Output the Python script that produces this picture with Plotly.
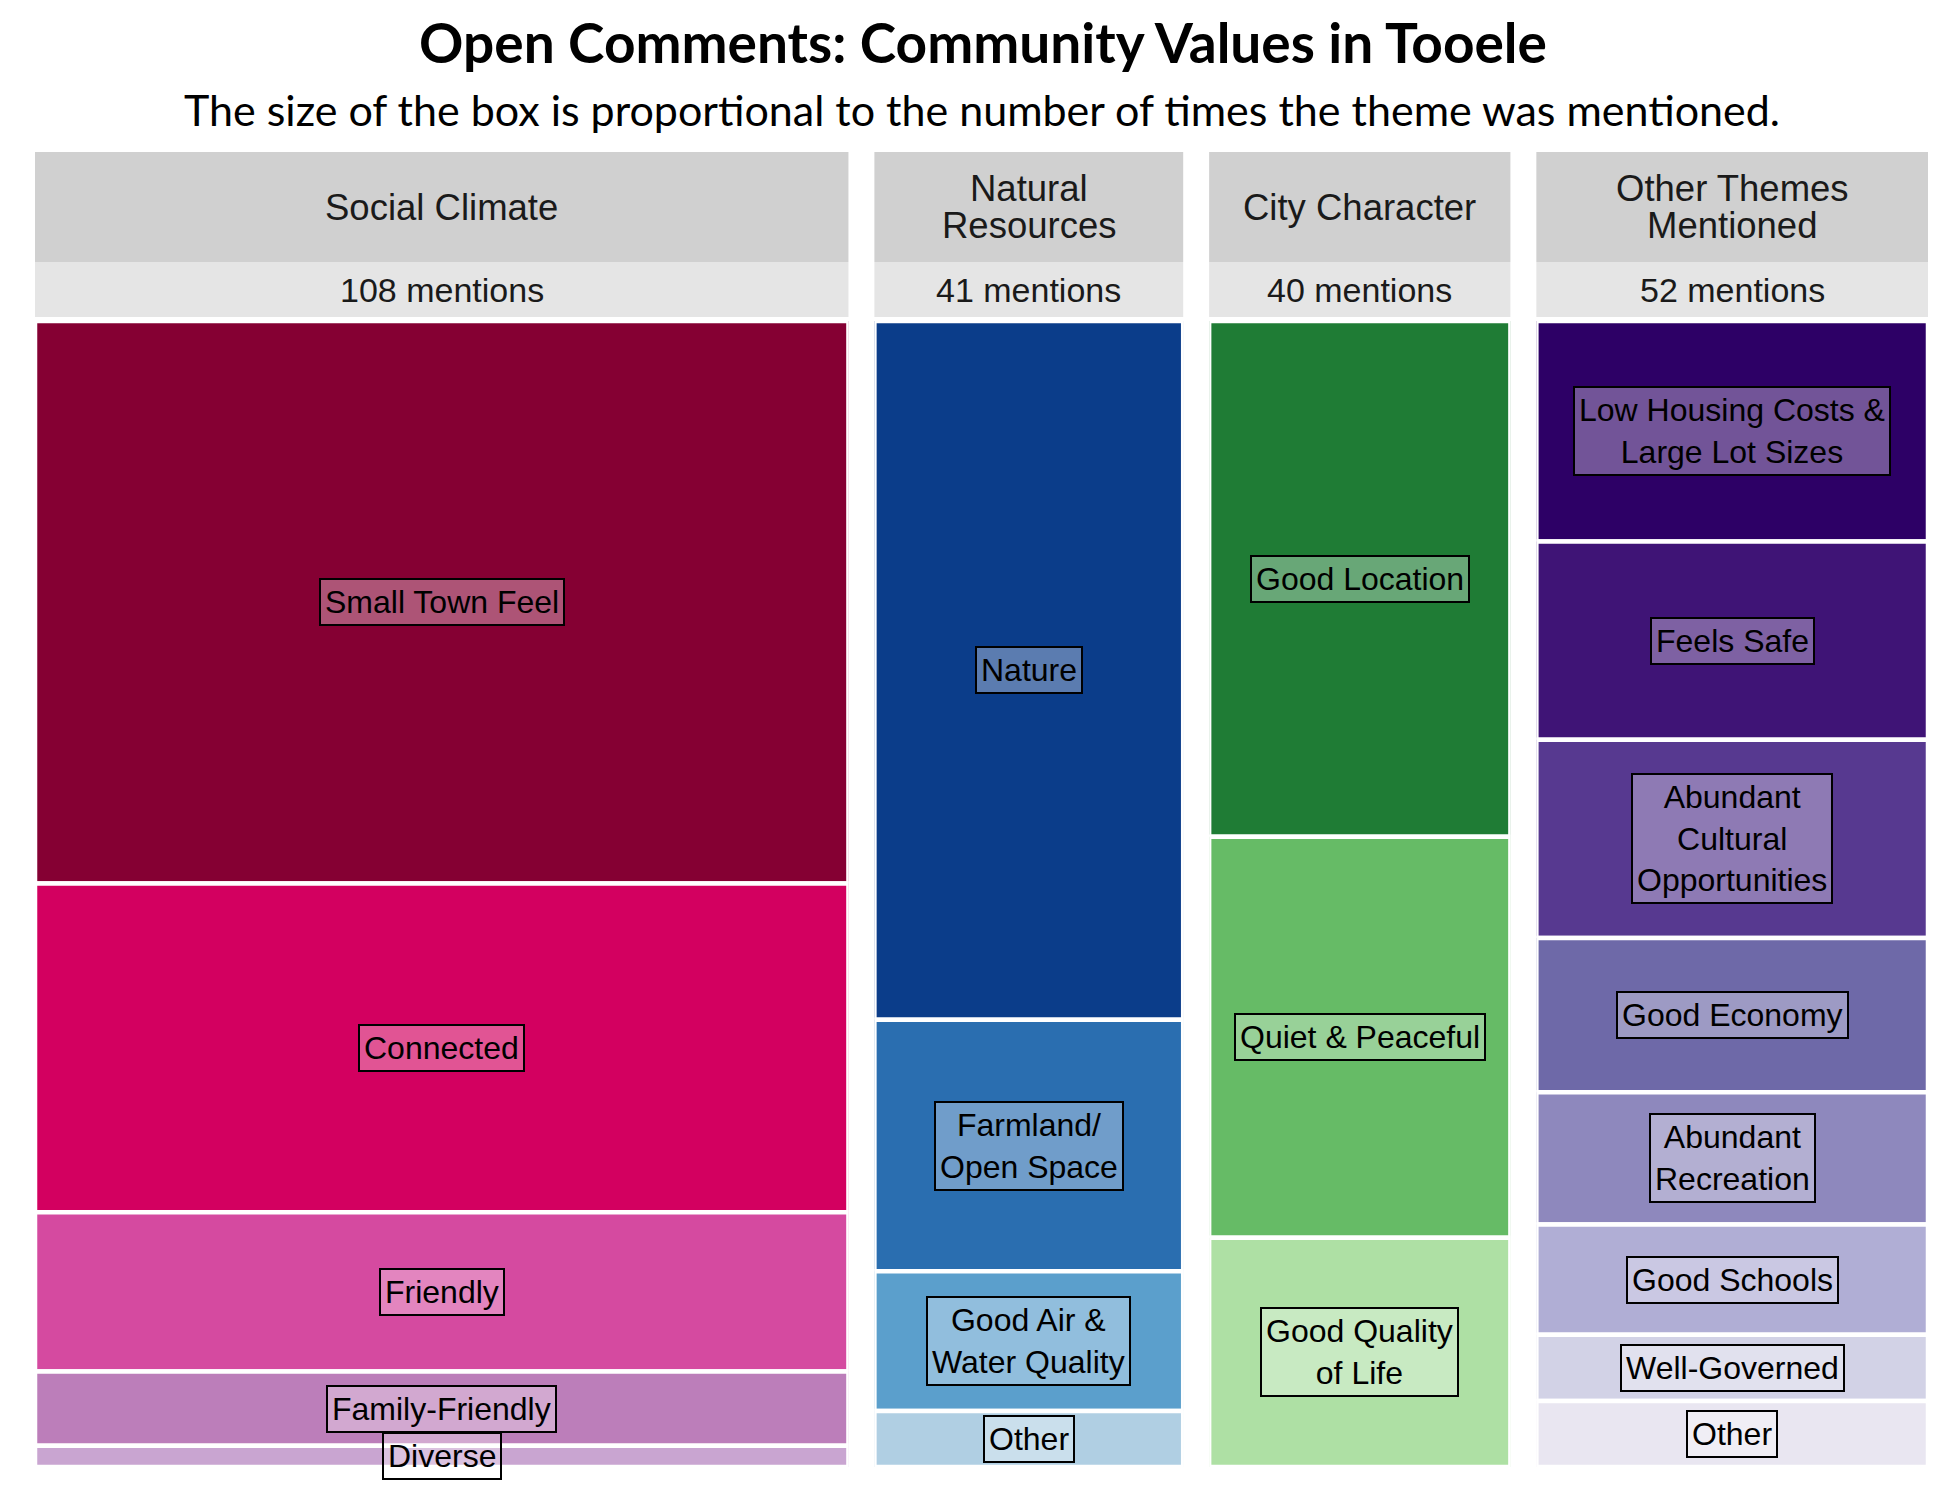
import numpy as np
import plotly.graph_objects as go
from plotly.subplots import make_subplots

# Themes (column headers) and their sub-themes, top to bottom
GROUPS = ["Social Climate", "Natural<br>Resources", "City Character", "Other Themes<br>Mentioned"]

SOCIAL_LABELS = ["Small Town Feel", "Connected", "Friendly", "Family-Friendly", "Diverse"]
SOCIAL_COUNTS = [53, 31, 15, 7, 2]

NATURAL_LABELS = ["Nature", "Farmland/<br>Open Space", "Good Air &<br>Water Quality", "Other"]
NATURAL_COUNTS = [25, 9, 5, 2]

CITY_LABELS = ["Good Location", "Quiet & Peaceful", "Good Quality<br>of Life"]
CITY_COUNTS = [18, 14, 8]

OTHER_LABELS = [
    "Low Housing Costs &<br>Large Lot Sizes", "Feels Safe",
    "Abundant<br>Cultural<br>Opportunities", "Good Economy",
    "Abundant<br>Recreation", "Good Schools", "Well-Governed", "Other",
]
OTHER_COUNTS = [10, 9, 9, 7, 6, 5, 3, 3]

# One sequential palette per theme (dark -> light)
PALETTES = [
    ["#850033", "#d30060", "#d54aa0", "#bc7eba", "#c9a5d1"],
    ["#0b3d8a", "#2a6eb0", "#5b9fcc", "#b0cfe3"],
    ["#1f7c35", "#66bb66", "#aee0a4"],
    ["#2d0066", "#3f1476", "#573990", "#6e69a8", "#8e88bd", "#b0aed5", "#d2d2e6", "#e9e6f1"],
]

TITLE = "<b>Open Comments: Community Values in Tooele</b>"
SUBTITLE = "The size of the box is proportional to the number of times the theme was mentioned."

LABEL_FONT = "Liberation Sans, Arial, sans-serif"
TITLE_FONT = "Lato, Open Sans, sans-serif"
HEADER_LINE = 37  # px between strip text lines

sections = [
    (SOCIAL_LABELS, SOCIAL_COUNTS),
    (NATURAL_LABELS, NATURAL_COUNTS),
    (CITY_LABELS, CITY_COUNTS),
    (OTHER_LABELS, OTHER_COUNTS),
]
totals = [sum(c) for _, c in sections]

fig = make_subplots(
    rows=1, cols=len(sections),
    column_widths=totals,
    horizontal_spacing=0.0137,
)

annotations = []
shapes = []
for i, ((labels, counts), group, colors) in enumerate(zip(sections, GROUPS, PALETTES), start=1):
    counts = np.array(counts)
    starts = np.concatenate([[0], np.cumsum(counts)[:-1]])
    plain = [lab.replace("<br>", " ") for lab in labels]

    fig.add_trace(go.Bar(
        x=[0] * len(counts), y=counts, base=starts, width=1,
        marker=dict(color=colors, line=dict(color="white", width=4.5)),
        customdata=plain,
        hovertemplate="%{customdata}: %{y} mentions<extra>" + group.replace("<br>", " ") + "</extra>",
    ), row=1, col=i)

    ax = "" if i == 1 else str(i)
    fig.update_xaxes(range=[-0.5, 0.5], visible=False, row=1, col=i)
    fig.update_yaxes(range=[totals[i - 1], 0], visible=False, row=1, col=i)

    # labels in the middle of each box
    for lab, s, c in zip(labels, starts, counts):
        annotations.append(dict(
            x=0, y=s + c / 2, xref=f"x{ax}", yref=f"y{ax}",
            text=lab, showarrow=False,
            font=dict(family=LABEL_FONT, size=32, color="black"),
            bgcolor="rgba(255,255,255,0.33)",
            bordercolor="black", borderwidth=2, borderpad=4,
        ))

    # facet strip: theme name + mention count
    shapes.append(dict(
        type="rect", xref=f"x{ax} domain", x0=0, x1=1,
        yref="paper", ysizemode="pixel", yanchor=1, y0=59, y1=169,
        fillcolor="#d0d0d0", line=dict(width=0), layer="below",
    ))
    shapes.append(dict(
        type="rect", xref=f"x{ax} domain", x0=0, x1=1,
        yref="paper", ysizemode="pixel", yanchor=1, y0=4, y1=59,
        fillcolor="#e5e5e5", line=dict(width=0), layer="below",
    ))
    lines = group.split("<br>")
    for k, line in enumerate(lines):
        annotations.append(dict(
            x=0.5, y=1, xref=f"x{ax} domain", yref="paper",
            yshift=114 + HEADER_LINE * ((len(lines) - 1) / 2 - k),
            yanchor="middle", text=line, showarrow=False,
            font=dict(family=LABEL_FONT, size=36.5, color="#1a1a1a"),
        ))
    annotations.append(dict(
        x=0.5, y=1, xref=f"x{ax} domain", yref="paper", yshift=31,
        yanchor="middle", text=f"{totals[i - 1]} mentions", showarrow=False,
        font=dict(family=LABEL_FONT, size=34, color="#1a1a1a"),
    ))

annotations.append(dict(
    x=0.5, y=1, xref="paper", yref="paper", yshift=212,
    xanchor="center", yanchor="middle", text=SUBTITLE, showarrow=False,
    font=dict(family=TITLE_FONT, size=43, color="black"),
))

fig.update_layout(
    title=dict(
        text=TITLE, x=0.5, xanchor="center", y=1 - 36 / 1500, yanchor="middle",
        font=dict(family=TITLE_FONT, size=55, color="black"),
    ),
    width=1950, height=1500,
    margin=dict(l=27, r=30, t=313, b=41),
    paper_bgcolor="white", plot_bgcolor="white",
    showlegend=False,
    annotations=annotations,
    shapes=shapes,
)

fig.write_html("out.html")
